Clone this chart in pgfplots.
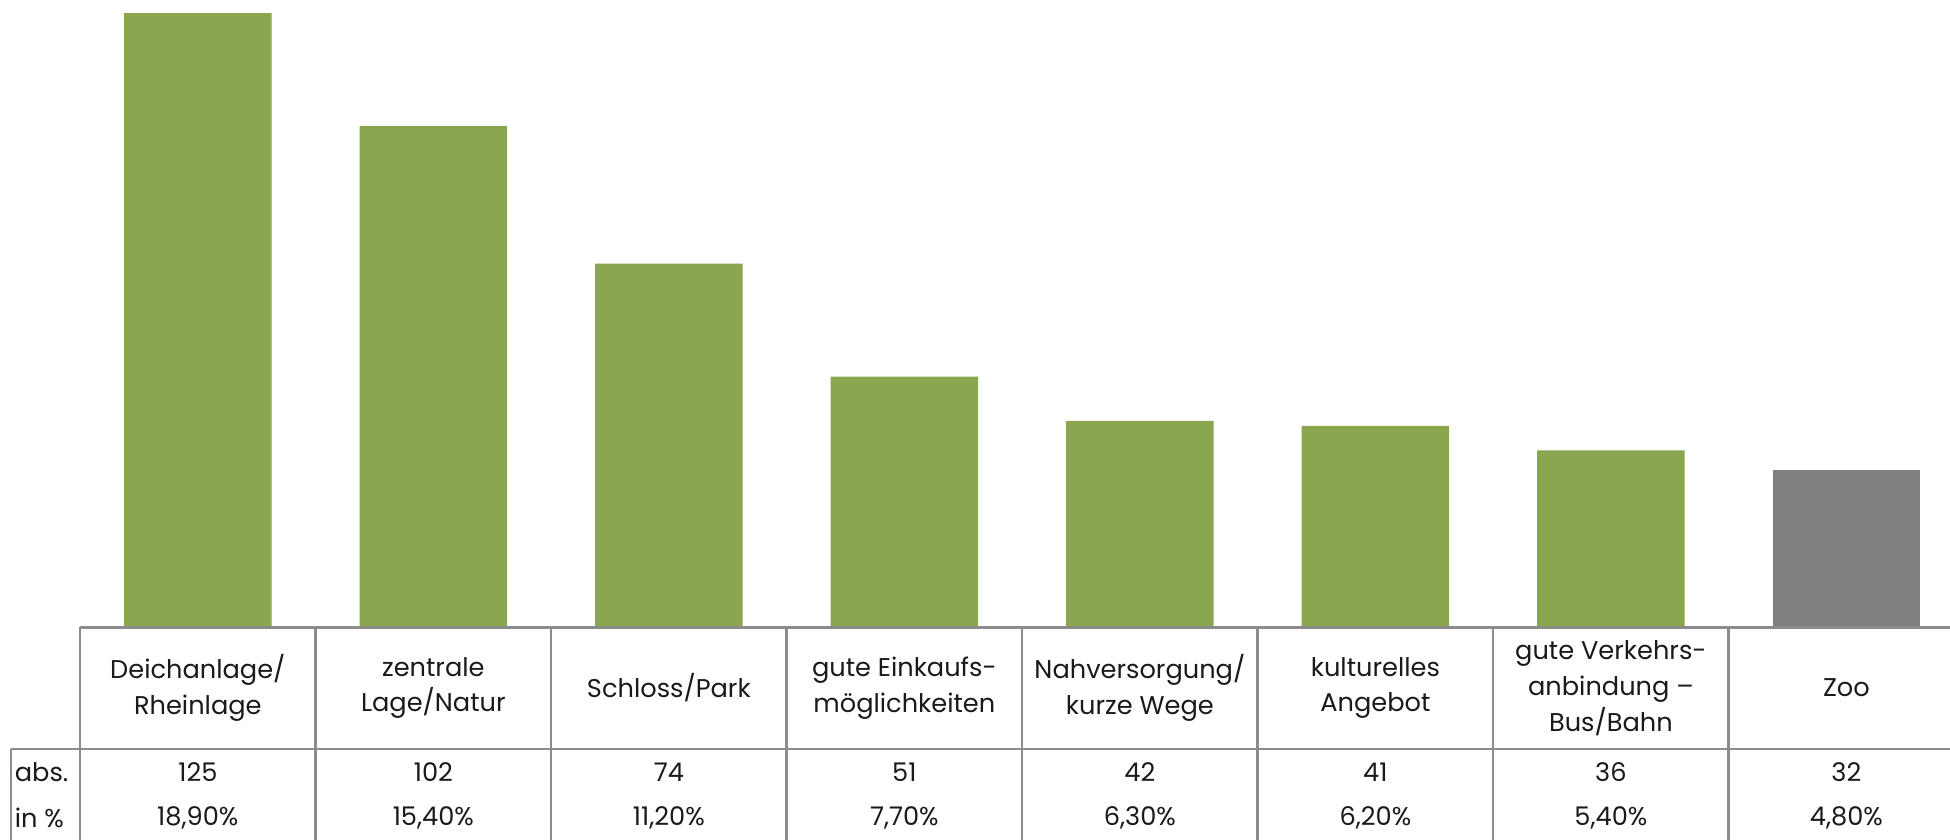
\documentclass[border=0pt]{standalone}
\usepackage{fontspec}
\setmainfont{Poppins}
\usepackage{pgfplots}
\usepackage{pgfplotstable}
\pgfplotsset{compat=1.18}

\definecolor{barGreen}{HTML}{8AA64F}
\definecolor{barGray}{HTML}{808080}
\definecolor{gridGray}{HTML}{8C8C8C}
\definecolor{txt}{HTML}{1A1A1A}

% x = column, abs = Nennungen, pct = Anteil in %
\pgfplotstableread{
x abs pct
0 125 18.9
1 102 15.4
2 74  11.2
3 51  7.7
4 42  6.3
5 41  6.2
6 36  5.4
7 32  4.8
}\wohnlage

\newcommand{\tabfont}{\fontsize{7.3}{10.2}\selectfont}

\begin{document}
\begin{tikzpicture}[font=\tabfont, text=txt]
\begin{axis}[
    scale only axis,
    width=195mm,
    height=84mm,
    xmin=-0.840, xmax=7.440,
    ymin=-43.28, ymax=127.65,
    axis x line=bottom,
    axis y line=none,
    x axis line style={draw=none},
    xtick={0,...,7},
    ytick=\empty,
    major tick length=0pt,
    /pgf/number format/assume math mode=true,
    xticklabels={
        {Deichanlage/\\Rheinlage},
        {zentrale\\Lage/Natur},
        {Schloss/Park},
        {gute Einkaufs-\\möglichkeiten},
        {Nahversorgung/\\kurze Wege},
        {kulturelles\\Angebot},
        {gute Verkehrs-\\anbindung –\\Bus/Bahn},
        {Zoo}},
    xticklabel style={anchor=center, align=center, yshift=15.2mm, font=\tabfont, text=txt},
    clip=false,
]
% bars
\addplot[ybar, bar width=0.626, bar shift=0pt, fill=barGreen, draw=none,
    skip coords between index={7}{8}] table[x=x, y=abs] {\wohnlage};
\addplot[ybar, bar width=0.626, bar shift=0pt, fill=barGray, draw=none,
    skip coords between index={0}{7}] table[x=x, y=abs] {\wohnlage};

% table grid
\draw[gridGray, line width=0.25mm] (axis cs:-0.5,0) -- (axis cs:7.44,0);
\draw[gridGray, line width=0.25mm] (axis cs:-0.793,-24.77) -- (axis cs:7.44,-24.77);
\draw[gridGray, line width=0.25mm] (axis cs:-0.793,-24.77) -- (axis cs:-0.793,-43.28);
\pgfplotsinvokeforeach{-0.5,0.5,...,6.5}{
    \draw[gridGray, line width=0.25mm] (axis cs:#1,0) -- (axis cs:#1,-43.28);
}

% table rows
\addplot[draw=none, point meta=explicit,
    nodes near coords={\pgfmathprintnumber{\pgfplotspointmeta}},
    nodes near coords style={anchor=center, inner sep=0pt, font=\tabfont, text=txt}]
    table[x=x, y expr=-29.55, meta=abs] {\wohnlage};
\addplot[draw=none, point meta=explicit,
    nodes near coords={\pgfmathprintnumber[fixed,fixed zerofill,precision=2,use comma]{\pgfplotspointmeta}\%},
    nodes near coords style={anchor=center, inner sep=0pt, font=\tabfont, text=txt}]
    table[x=x, y expr=-38.8, meta=pct] {\wohnlage};

\node[anchor=west, inner sep=0pt] at (axis cs:-0.780,-29.55) {abs.};
\node[anchor=west, inner sep=0pt] at (axis cs:-0.780,-38.8) {in \%};
\end{axis}
\pgfresetboundingbox
\path (current axis.south west) rectangle (current axis.north east);
\end{tikzpicture}
\end{document}
